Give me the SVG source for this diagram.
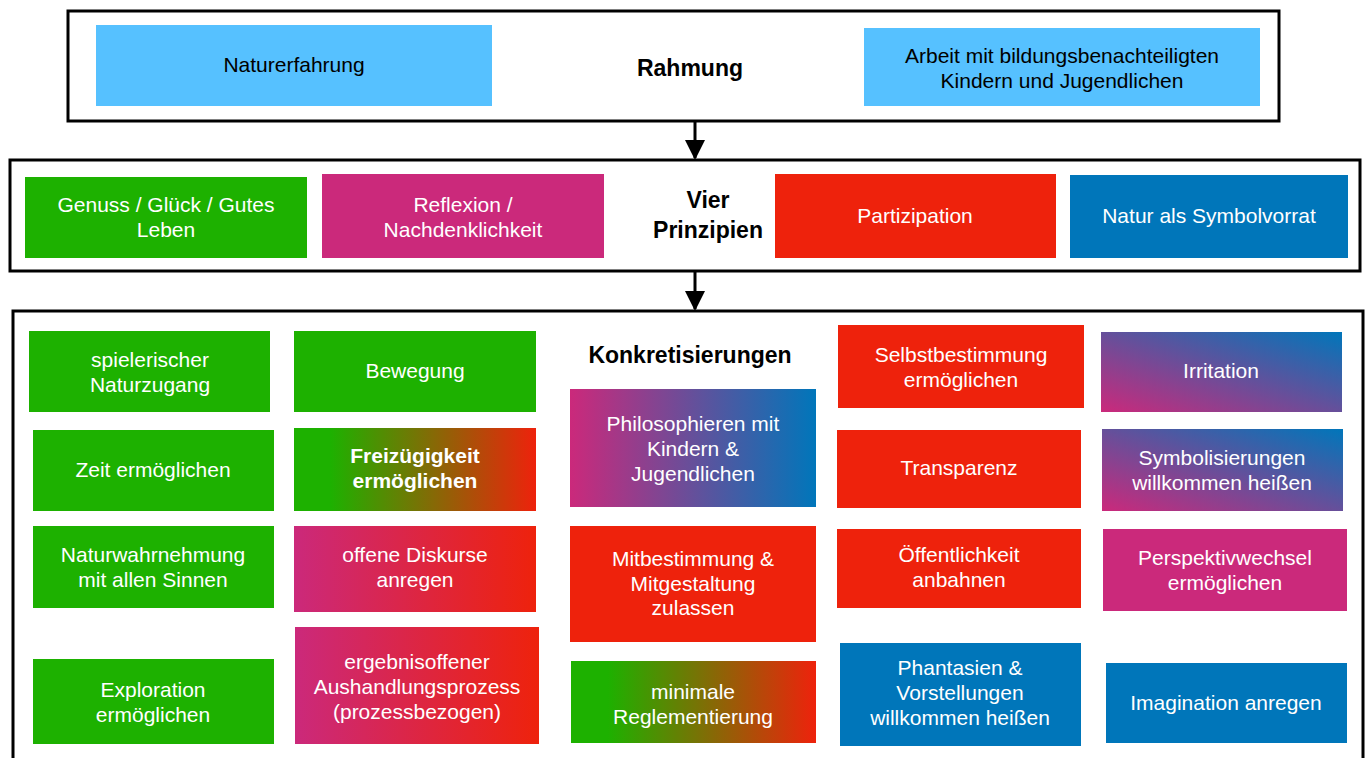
<svg xmlns="http://www.w3.org/2000/svg" width="1370" height="758" viewBox="0 0 1370 758">
<defs>
<linearGradient id="gr" x1="0" y1="0" x2="1" y2="0"><stop offset="0.15" stop-color="#1DB100"/><stop offset="1" stop-color="#EE220C"/></linearGradient>
<linearGradient id="mr" x1="0" y1="0" x2="1" y2="0"><stop offset="0" stop-color="#CB297B"/><stop offset="1" stop-color="#EE220C"/></linearGradient>
<linearGradient id="mb" x1="0" y1="0" x2="1" y2="0"><stop offset="0" stop-color="#CB297B"/><stop offset="1" stop-color="#0076BA"/></linearGradient>
<linearGradient id="mbd" x1="0" y1="1" x2="1" y2="0"><stop offset="0" stop-color="#CB297B"/><stop offset="1" stop-color="#0076BA"/></linearGradient>
<marker id="ah" markerWidth="20" markerHeight="20" refX="18" refY="10" orient="auto" markerUnits="userSpaceOnUse"><path d="M0,0 L20,10 L0,20 Z" fill="#000"/></marker>
</defs>
<style>
.frame{fill:#fff;stroke:#000;stroke-width:3}
.lb{fill:#56C1FF}.g{fill:#1DB100}.r{fill:#EE220C}.m{fill:#CB297B}.b{fill:#0076BA}
text{font-family:"Liberation Sans",Arial,sans-serif;font-size:21px;text-anchor:middle}
.w{fill:#fff}.k{fill:#000}
.title{font-weight:bold;font-size:23px;fill:#000}
.bold{font-weight:bold}
.conn{stroke:#000;stroke-width:3;fill:none}
</style>
<rect width="1370" height="758" fill="#fff"/>
<rect class="frame" x="68" y="11" width="1211" height="110"/>
<rect class="frame" x="10" y="160" width="1350" height="111"/>
<rect class="frame" x="13" y="311" width="1350" height="460"/>
<g id="connectors">
<line class="conn" x1="695" y1="121" x2="695" y2="158" marker-end="url(#ah)"/>
<line class="conn" x1="695" y1="271" x2="695" y2="309" marker-end="url(#ah)"/>
</g>
<g id="rahmung"><text class="title" x="690" y="76">Rahmung</text></g>
<g id="naturerfahrung"><rect class="lb" x="96" y="25" width="396" height="81"/><text class="k" x="294" y="72">Naturerfahrung</text></g>
<g id="arbeit"><rect class="lb" x="864" y="28" width="396" height="78"/><text class="k" x="1062" y="63">Arbeit mit bildungsbenachteiligten</text><text class="k" x="1062" y="88">Kindern und Jugendlichen</text></g>
<g id="vier-prinzipien"><text class="title" x="708" y="208">Vier</text><text class="title" x="708" y="238">Prinzipien</text></g>
<g id="genuss"><rect class="g" x="25" y="177" width="282" height="81"/><text class="w" x="166" y="212">Genuss / Glück / Gutes</text><text class="w" x="166" y="237">Leben</text></g>
<g id="reflexion"><rect class="m" x="322" y="174" width="282" height="84"/><text class="w" x="463" y="212">Reflexion /</text><text class="w" x="463" y="237">Nachdenklichkeit</text></g>
<g id="partizipation"><rect class="r" x="775" y="174" width="281" height="84"/><text class="w" x="915" y="223">Partizipation</text></g>
<g id="natur-symbol"><rect class="b" x="1070" y="175" width="278" height="83"/><text class="w" x="1209" y="223">Natur als Symbolvorrat</text></g>
<g id="konkretisierungen"><text class="title" x="690" y="363">Konkretisierungen</text></g>
<g id="spielerischer"><rect class="g" x="29" y="331" width="241" height="81"/><text class="w" x="150" y="367">spielerischer</text><text class="w" x="150" y="392">Naturzugang</text></g>
<g id="bewegung"><rect class="g" x="294" y="331" width="242" height="81"/><text class="w" x="415" y="378">Bewegung</text></g>
<g id="selbstbestimmung"><rect class="r" x="838" y="325" width="246" height="83"/><text class="w" x="961" y="362">Selbstbestimmung</text><text class="w" x="961" y="387">ermöglichen</text></g>
<g id="irritation"><rect fill="url(#mbd)" x="1101" y="332" width="241" height="80"/><text class="w" x="1221" y="378">Irritation</text></g>
<g id="zeit"><rect class="g" x="33" y="430" width="241" height="81"/><text class="w" x="153" y="477">Zeit ermöglichen</text></g>
<g id="freizuegigkeit"><rect fill="url(#gr)" x="294" y="428" width="242" height="83"/><text class="w bold" x="415" y="463">Freizügigkeit</text><text class="w bold" x="415" y="488">ermöglichen</text></g>
<g id="philosophieren"><rect fill="url(#mb)" x="570" y="389" width="246" height="118"/><text class="w" x="693" y="431">Philosophieren mit</text><text class="w" x="693" y="456">Kindern &amp;</text><text class="w" x="693" y="481">Jugendlichen</text></g>
<g id="transparenz"><rect class="r" x="837" y="430" width="244" height="78"/><text class="w" x="959" y="475">Transparenz</text></g>
<g id="symbolisierungen"><rect fill="url(#mbd)" x="1102" y="429" width="241" height="82"/><text class="w" x="1222" y="465">Symbolisierungen</text><text class="w" x="1222" y="490">willkommen heißen</text></g>
<g id="naturwahrnehmung"><rect class="g" x="33" y="526" width="241" height="82"/><text class="w" x="153" y="562">Naturwahrnehmung</text><text class="w" x="153" y="587">mit allen Sinnen</text></g>
<g id="offene-diskurse"><rect fill="url(#mr)" x="294" y="526" width="242" height="86"/><text class="w" x="415" y="562">offene Diskurse</text><text class="w" x="415" y="587">anregen</text></g>
<g id="mitbestimmung"><rect class="r" x="570" y="526" width="246" height="116"/><text class="w" x="693" y="566">Mitbestimmung &amp;</text><text class="w" x="693" y="591">Mitgestaltung</text><text class="w" x="693" y="615">zulassen</text></g>
<g id="oeffentlichkeit"><rect class="r" x="837" y="529" width="244" height="79"/><text class="w" x="959" y="562">Öffentlichkeit</text><text class="w" x="959" y="587">anbahnen</text></g>
<g id="perspektivwechsel"><rect class="m" x="1103" y="529" width="244" height="82"/><text class="w" x="1225" y="565">Perspektivwechsel</text><text class="w" x="1225" y="590">ermöglichen</text></g>
<g id="exploration"><rect class="g" x="33" y="659" width="241" height="85"/><text class="w" x="153" y="697">Exploration</text><text class="w" x="153" y="722">ermöglichen</text></g>
<g id="ergebnisoffener"><rect fill="url(#mr)" x="295" y="627" width="244" height="117"/><text class="w" x="417" y="669">ergebnisoffener</text><text class="w" x="417" y="694">Aushandlungsprozess</text><text class="w" x="417" y="719">(prozessbezogen)</text></g>
<g id="minimale"><rect fill="url(#gr)" x="571" y="661" width="245" height="82"/><text class="w" x="693" y="699">minimale</text><text class="w" x="693" y="724">Reglementierung</text></g>
<g id="phantasien"><rect class="b" x="840" y="643" width="241" height="103"/><text class="w" x="960" y="675">Phantasien &amp;</text><text class="w" x="960" y="700">Vorstellungen</text><text class="w" x="960" y="725">willkommen heißen</text></g>
<g id="imagination"><rect class="b" x="1106" y="663" width="241" height="80"/><text class="w" x="1226" y="710">Imagination anregen</text></g>
</svg>
